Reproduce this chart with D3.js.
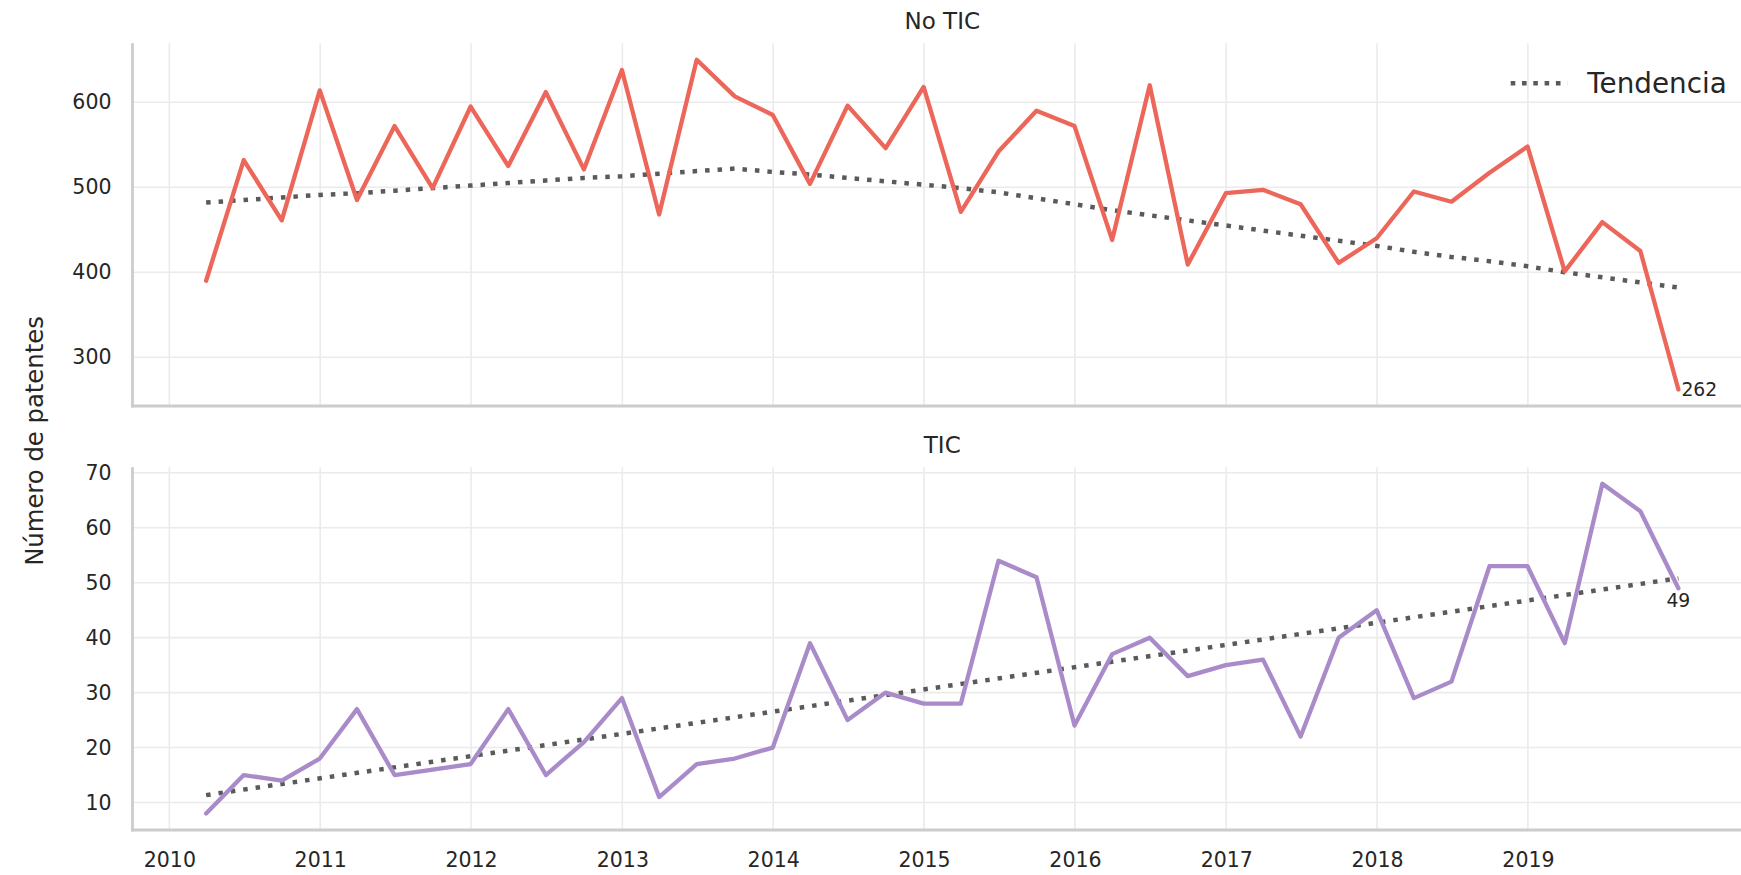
<!DOCTYPE html>
<html>
<head>
<meta charset="utf-8">
<script src="https://cdn.jsdelivr.net/npm/d3@7"></script>
<style>
  body { margin: 0; background: #ffffff; }
  text { font-family: "DejaVu Sans", sans-serif; fill: #262626; }
</style>
</head>
<body>
<svg id="chart" width="1741" height="875"></svg>
<script>
// Quarterly patent counts, one value per quarter-end date
const quarterEnds = [
  "2010-03-31","2010-06-30","2010-09-30","2010-12-31",
  "2011-03-31","2011-06-30","2011-09-30","2011-12-31",
  "2012-03-31","2012-06-30","2012-09-30","2012-12-31",
  "2013-03-31","2013-06-30","2013-09-30","2013-12-31",
  "2014-03-31","2014-06-30","2014-09-30","2014-12-31",
  "2015-03-31","2015-06-30","2015-09-30","2015-12-31",
  "2016-03-31","2016-06-30","2016-09-30","2016-12-31",
  "2017-03-31","2017-06-30","2017-09-30","2017-12-31",
  "2018-03-31","2018-06-30","2018-09-30","2018-12-31",
  "2019-03-31","2019-06-30","2019-09-30","2019-12-31"
];

const noTicValues = [
  390, 532, 461, 614,
  485, 572, 499, 595,
  525, 612, 521, 638,
  468, 650, 607, 585,
  504, 596, 546, 618,
  471, 542, 590, 572,
  438, 620, 409, 493,
  497, 480, 411, 440,
  495, 483, 517, 548,
  401, 459, 425, 262
];

const ticValues = [
   8, 15, 14, 18,
  27, 15, 16, 17,
  27, 15, 21, 29,
  11, 17, 18, 20,
  39, 25, 30, 28,
  28, 54, 51, 24,
  37, 40, 33, 35,
  36, 22, 40, 45,
  29, 32, 53, 53,
  39, 68, 63, 49
];

// Smoothed trend for "No TIC", one value per quarter
const noTicTrend = [
  482, 485, 488, 491,
  493, 496, 499, 502,
  505, 508, 511, 513,
  516, 519, 522, 518,
  515, 511, 507, 503,
  499, 494, 487, 480,
  473, 467, 461, 455,
  449, 443, 437, 431,
  424, 418, 413, 407,
  400, 394, 388, 382
];

// Straight-line trend for "TIC": values at the first and last quarter
const ticTrendEnds = [11.35, 50.8];

const yearTicks = [2010, 2011, 2012, 2013, 2014, 2015, 2016, 2017, 2018, 2019];
const noTicTicks = [300, 400, 500, 600];
const ticTicks = [10, 20, 30, 40, 50, 60, 70];
const panelTitles = ["No TIC", "TIC"];
const legendLabel = "Tendencia";
const yAxisLabel = "Número de patentes";

const COLORS = { noTic: "#ec665a", tic: "#aa8bca", trend: "#5a5a5a", grid: "#ebebeb", spine: "#cccccc" };

const svg = d3.select("#chart");
const parse = d3.timeParse("%Y-%m-%d");
const dates = quarterEnds.map(parse);

// Shared x scale with 5% padding on each side
const left = 132.5, right = 1752;
const t0 = dates[0], t1 = dates[dates.length - 1];
const span = t1 - t0;
const x = d3.scaleTime()
  .domain([new Date(+t0 - 0.05 * span), new Date(+t1 + 0.05 * span)])
  .range([left, right]);

function paddedDomain(vals) {
  const lo = d3.min(vals), hi = d3.max(vals), r = hi - lo;
  return [lo - 0.05 * r, hi + 0.05 * r];
}

const panels = [
  { title: panelTitles[0], top: 43.3, bottom: 406, values: noTicValues, ticks: noTicTicks,
    color: COLORS.noTic, trend: noTicTrend.map((v, i) => ({ d: dates[i], v })), xLabels: false, legend: true,
    label: "right" },
  { title: panelTitles[1], top: 467.3, bottom: 830, values: ticValues, ticks: ticTicks,
    color: COLORS.tic, trend: [{ d: t0, v: ticTrendEnds[0] }, { d: t1, v: ticTrendEnds[1] }], xLabels: true, legend: false,
    label: "below" }
];

panels.forEach(p => {
  const y = d3.scaleLinear().domain(paddedDomain(p.values)).range([p.bottom, p.top]);
  const g = svg.append("g");

  // grid
  g.append("g").selectAll("line").data(p.ticks).join("line")
    .attr("x1", left).attr("x2", right)
    .attr("y1", d => y(d)).attr("y2", d => y(d))
    .attr("stroke", COLORS.grid).attr("stroke-width", 1.6);
  g.append("g").selectAll("line").data(yearTicks).join("line")
    .attr("x1", d => x(new Date(d, 0, 1))).attr("x2", d => x(new Date(d, 0, 1)))
    .attr("y1", p.top).attr("y2", p.bottom)
    .attr("stroke", COLORS.grid).attr("stroke-width", 1.6);

  // y axis labels
  const yAxis = d3.axisLeft(y).tickValues(p.ticks).tickSize(0).tickPadding(21);
  const ya = g.append("g").attr("transform", `translate(${left},0)`).call(yAxis);
  ya.select(".domain").remove();
  ya.selectAll("text").attr("font-size", "20.5px").attr("fill", "#262626")
    .attr("font-family", "DejaVu Sans, sans-serif");

  // x axis labels
  if (p.xLabels) {
    const xAxis = d3.axisBottom(x).tickValues(yearTicks.map(yr => new Date(yr, 0, 1)))
      .tickFormat(d3.timeFormat("%Y")).tickSize(0).tickPadding(22);
    const xa = g.append("g").attr("transform", `translate(0,${p.bottom})`).call(xAxis);
    xa.select(".domain").remove();
    xa.selectAll("text").attr("font-size", "20.5px").attr("fill", "#262626")
      .attr("font-family", "DejaVu Sans, sans-serif");
  }

  // spines
  g.append("line").attr("x1", left).attr("x2", left).attr("y1", p.top).attr("y2", p.bottom + 1.4)
    .attr("stroke", COLORS.spine).attr("stroke-width", 2.8);
  g.append("line").attr("x1", left - 1.4).attr("x2", right).attr("y1", p.bottom).attr("y2", p.bottom)
    .attr("stroke", COLORS.spine).attr("stroke-width", 2.8);

  // title
  g.append("text").attr("x", (left + right) / 2).attr("y", p.top - 14)
    .attr("text-anchor", "middle").attr("font-size", "23px").text(p.title);

  // trend (dotted)
  const trendLine = d3.line().x(d => x(d.d)).y(d => y(d.v));
  g.append("path").datum(p.trend).attr("d", trendLine)
    .attr("fill", "none").attr("stroke", COLORS.trend).attr("stroke-width", 4.5)
    .attr("stroke-dasharray", "4.5,8");

  // series
  const series = p.values.map((v, i) => ({ d: dates[i], v }));
  const line = d3.line().x(d => x(d.d)).y(d => y(d.v));
  g.append("path").datum(series).attr("d", line)
    .attr("fill", "none").attr("stroke", p.color).attr("stroke-width", 4.3)
    .attr("stroke-linejoin", "round").attr("stroke-linecap", "round");

  // last value label
  const lastPt = series[series.length - 1];
  if (p.label === "right") {
    g.append("text").attr("x", x(lastPt.d) + 3).attr("y", y(lastPt.v))
      .attr("dy", "0.35em").attr("font-size", "18.8px").text(lastPt.v);
  } else {
    g.append("text").attr("x", x(lastPt.d)).attr("y", y(lastPt.v) + 5)
      .attr("dy", "0.76em").attr("text-anchor", "middle").attr("font-size", "18.8px").text(lastPt.v);
  }

  // legend
  if (p.legend) {
    const lg = g.append("g");
    lg.append("line").attr("x1", 1510.7).attr("x2", 1567.3).attr("y1", 83.3).attr("y2", 83.3)
      .attr("stroke", COLORS.trend).attr("stroke-width", 4.6).attr("stroke-dasharray", "4.6,6.7");
    lg.append("text").attr("x", 1587.3).attr("y", 83.3).attr("dy", "0.36em")
      .attr("font-size", "27.8px").text(legendLabel);
  }
});

// shared y label
svg.append("text")
  .attr("transform", "translate(42.5,441) rotate(-90)")
  .attr("text-anchor", "middle").attr("font-size", "24.3px").text(yAxisLabel);
</script>
</body>
</html>
